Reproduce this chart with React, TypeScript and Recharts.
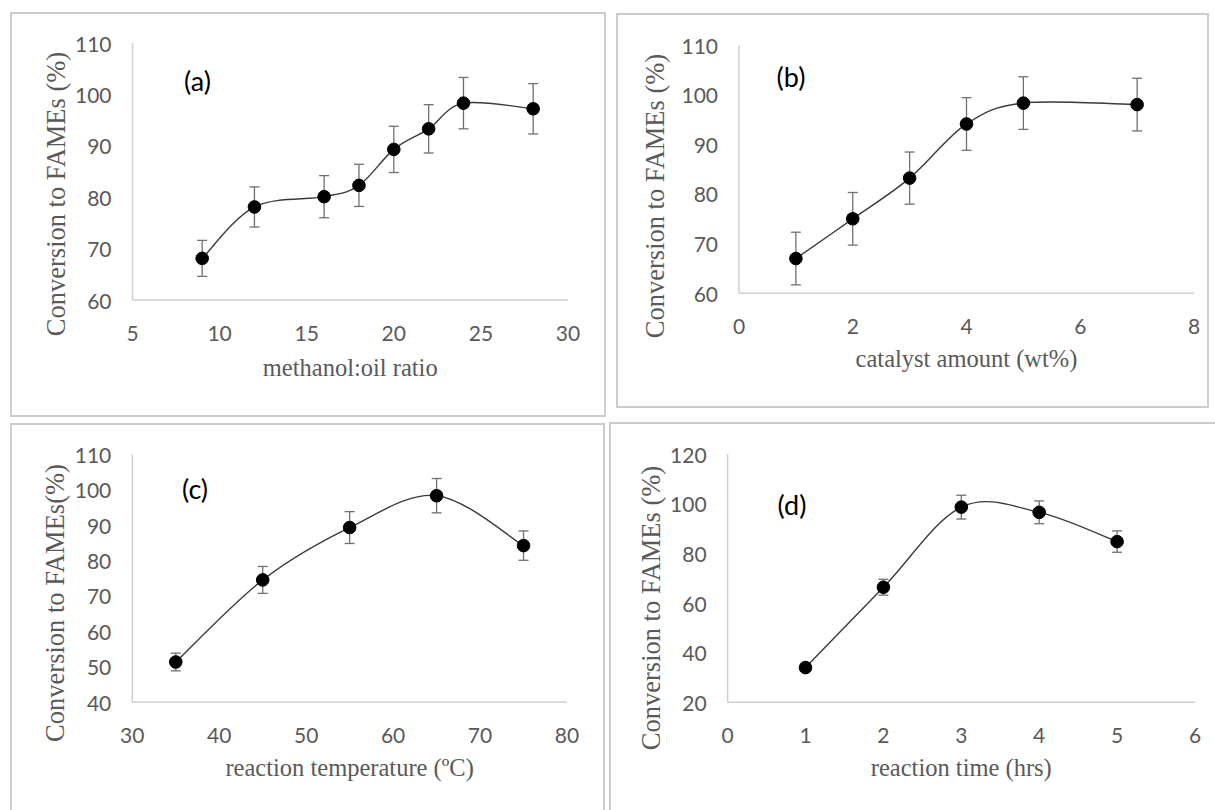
import { ErrorBar, Line, LineChart, XAxis, YAxis } from "recharts";

// (a) methanol:oil ratio
const ratioX = [9, 12, 16, 18, 20, 22, 24, 28];
const ratioY = [68.1, 78.1, 80.1, 82.3, 89.3, 93.3, 98.3, 97.2];
const ratioErr = [3.5, 3.9, 4.1, 4.1, 4.5, 4.7, 5.0, 4.9];
const ratioXTicks = [5, 10, 15, 20, 25, 30];
const ratioYTicks = [60, 70, 80, 90, 100, 110];

// (b) catalyst amount
const catalystX = [1, 2, 3, 4, 5, 7];
const catalystY = [67.0, 75.0, 83.2, 94.1, 98.3, 98.0];
const catalystErr = [5.3, 5.3, 5.25, 5.3, 5.3, 5.3];
const catalystXTicks = [0, 2, 4, 6, 8];
const catalystYTicks = [60, 70, 80, 90, 100, 110];

// (c) reaction temperature
const tempX = [35, 45, 55, 65, 75];
const tempY = [51.3, 74.5, 89.3, 98.3, 84.2];
const tempErr = [2.5, 3.8, 4.5, 4.85, 4.15];
const tempXTicks = [30, 40, 50, 60, 70, 80];
const tempYTicks = [40, 50, 60, 70, 80, 90, 100, 110];

// (d) reaction time
const timeX = [1, 2, 3, 4, 5];
const timeY = [34.0, 66.4, 98.7, 96.6, 84.8];
const timeErr = [1.2, 3.2, 4.8, 4.6, 4.3];
const timeXTicks = [0, 1, 2, 3, 4, 5, 6];
const timeYTicks = [20, 40, 60, 80, 100, 120];

const TICK_COLOR = "#595959";
const TITLE_FONT = "'Liberation Serif', 'Times New Roman', serif";
const TICK_FONT = "Lato, 'Open Sans', sans-serif";
const X_AXIS_H = 50;

type Box = { left: number; top: number; right: number; bottom: number };
type Plot = { x0: number; x1: number; y0: number; y1: number };

function toRows(xs: number[], ys: number[], errs: number[]) {
  return xs.map((x, i) => ({ x, y: ys[i], err: errs[i] }));
}

// Excel-style smoothed line (Catmull-Rom through the points)
function excelCurve(context: any) {
  let pts: [number, number][] = [];
  return {
    areaStart() {},
    areaEnd() {},
    lineStart() {
      pts = [];
    },
    point(x: number, y: number) {
      pts.push([+x, +y]);
    },
    lineEnd() {
      if (!pts.length) return;
      context.moveTo(pts[0][0], pts[0][1]);
      for (let i = 0; i < pts.length - 1; i++) {
        const p0 = pts[i - 1] || pts[i];
        const p1 = pts[i];
        const p2 = pts[i + 1];
        const p3 = pts[i + 2] || p2;
        context.bezierCurveTo(
          p1[0] + (p2[0] - p0[0]) / 6,
          p1[1] + (p2[1] - p0[1]) / 6,
          p2[0] - (p3[0] - p1[0]) / 6,
          p2[1] - (p3[1] - p1[1]) / 6,
          p2[0],
          p2[1]
        );
      }
    },
  };
}

function YTick({ x, y, payload }: any) {
  return (
    <text x={x} y={y} textAnchor="end" dominantBaseline="central" fill={TICK_COLOR} fontSize={21} fontFamily={TICK_FONT}>
      {payload.value}
    </text>
  );
}

function XTick({ x, y, payload }: any) {
  return (
    <text x={x} y={y} textAnchor="middle" dominantBaseline="central" fill={TICK_COLOR} fontSize={21} fontFamily={TICK_FONT}>
      {payload.value}
    </text>
  );
}

function Panel({
  box,
  plot,
  rows,
  xTicks,
  yTicks,
  letter,
  letterPos,
  xTitle,
  xTitleY,
  yTitle,
  yTitleX,
  yTitleY,
}: {
  box: Box;
  plot: Plot;
  rows: { x: number; y: number; err: number }[];
  xTicks: number[];
  yTicks: number[];
  letter: string;
  letterPos: [number, number];
  xTitle: string;
  xTitleY: number;
  yTitle: string;
  yTitleX: number;
  yTitleY: number;
}) {
  const w = box.right - box.left;
  const h = box.bottom - box.top;
  return (
    <>
      <div
        style={{
          position: "absolute",
          left: box.left,
          top: box.top,
          width: w,
          height: h,
          boxSizing: "border-box",
          border: "2px solid #cccccc",
        }}
      />
      <div style={{ position: "absolute", left: box.left, top: box.top }}>
        <LineChart
          width={w}
          height={h}
          data={rows}
          margin={{
            top: plot.y0 - box.top,
            right: box.right - plot.x1,
            left: 0,
            bottom: box.bottom - plot.y1 - X_AXIS_H,
          }}
        >
          <XAxis
            dataKey="x"
            type="number"
            domain={[xTicks[0], xTicks[xTicks.length - 1]]}
            ticks={xTicks}
            interval={0}
            height={X_AXIS_H}
            tickLine={false}
            tickSize={0}
            tickMargin={32}
            axisLine={{ stroke: "#cfcfcf", strokeWidth: 1.5 }}
            tick={<XTick />}
          />
          <YAxis
            type="number"
            domain={[yTicks[0], yTicks[yTicks.length - 1]]}
            ticks={yTicks}
            interval={0}
            width={plot.x0 - box.left}
            tickLine={false}
            tickSize={0}
            tickMargin={21}
            axisLine={{ stroke: "#cfcfcf", strokeWidth: 1.5 }}
            tick={<YTick />}
          />
          <Line
            dataKey="y"
            type={excelCurve as any}
            stroke="#3a3a3a"
            strokeWidth={1.4}
            dot={{ r: 6.3, fill: "#000", stroke: "#000", strokeWidth: 1 }}
            activeDot={false}
            isAnimationActive={false}
          >
            <ErrorBar dataKey="err" direction="y" width={5} stroke="#707070" strokeWidth={1.3} isAnimationActive={false} />
          </Line>
        </LineChart>
      </div>
      <div
        style={{
          position: "absolute",
          left: letterPos[0],
          top: letterPos[1],
          transform: "translate(-50%, -50%)",
          fontFamily: TICK_FONT,
          fontSize: 27,
          color: "#000",
          whiteSpace: "nowrap",
        }}
      >
        {letter}
      </div>
      <div
        style={{
          position: "absolute",
          left: (plot.x0 + plot.x1) / 2,
          top: xTitleY,
          transform: "translate(-50%, -50%)",
          fontFamily: TITLE_FONT,
          fontSize: 24.5,
          color: TICK_COLOR,
          whiteSpace: "nowrap",
        }}
      >
        {xTitle}
      </div>
      <div
        style={{
          position: "absolute",
          left: yTitleX,
          top: yTitleY,
          transform: "translate(-50%, -50%) rotate(-90deg)",
          fontFamily: TITLE_FONT,
          fontSize: 26.5,
          color: TICK_COLOR,
          whiteSpace: "nowrap",
        }}
      >
        {yTitle}
      </div>
    </>
  );
}

export default function App() {
  return (
    <div
      style={{
        position: "absolute",
        left: 0,
        top: 0,
        width: 1215,
        height: 810,
        overflow: "hidden",
        background: "#fff",
      }}
    >
      <Panel
        box={{ left: 10, top: 12, right: 606, bottom: 417 }}
        plot={{ x0: 132.5, x1: 568, y0: 43, y1: 300 }}
        rows={toRows(ratioX, ratioY, ratioErr)}
        xTicks={ratioXTicks}
        yTicks={ratioYTicks}
        letter="(a)"
        letterPos={[197.5, 80]}
        xTitle="methanol:oil ratio"
        xTitleY={367.5}
        yTitle="Conversion to FAMEs (%)"
        yTitleX={55.5}
        yTitleY={193.5}
      />
      <Panel
        box={{ left: 616, top: 13, right: 1209, bottom: 408 }}
        plot={{ x0: 739, x1: 1194, y0: 45, y1: 293.3 }}
        rows={toRows(catalystX, catalystY, catalystErr)}
        xTicks={catalystXTicks}
        yTicks={catalystYTicks}
        letter="(b)"
        letterPos={[791, 76]}
        xTitle="catalyst amount (wt%)"
        xTitleY={359}
        yTitle="Conversion to FAMEs (%)"
        yTitleX={654.5}
        yTitleY={196}
      />
      <Panel
        box={{ left: 10, top: 423, right: 605, bottom: 814 }}
        plot={{ x0: 132.3, x1: 567, y0: 454.3, y1: 702 }}
        rows={toRows(tempX, tempY, tempErr)}
        xTicks={tempXTicks}
        yTicks={tempYTicks}
        letter="(c)"
        letterPos={[195, 488]}
        xTitle="reaction temperature (ºC)"
        xTitleY={768}
        yTitle="Conversion to FAMEs(%)"
        yTitleX={55.3}
        yTitleY={603}
      />
      <Panel
        box={{ left: 609, top: 422, right: 1219, bottom: 814 }}
        plot={{ x0: 727.6, x1: 1195, y0: 454.3, y1: 702.3 }}
        rows={toRows(timeX, timeY, timeErr)}
        xTicks={timeXTicks}
        yTicks={timeYTicks}
        letter="(d)"
        letterPos={[792, 504]}
        xTitle="reaction time (hrs)"
        xTitleY={768}
        yTitle="Conversion to FAMEs (%)"
        yTitleX={650.6}
        yTitleY={607.5}
      />
    </div>
  );
}
